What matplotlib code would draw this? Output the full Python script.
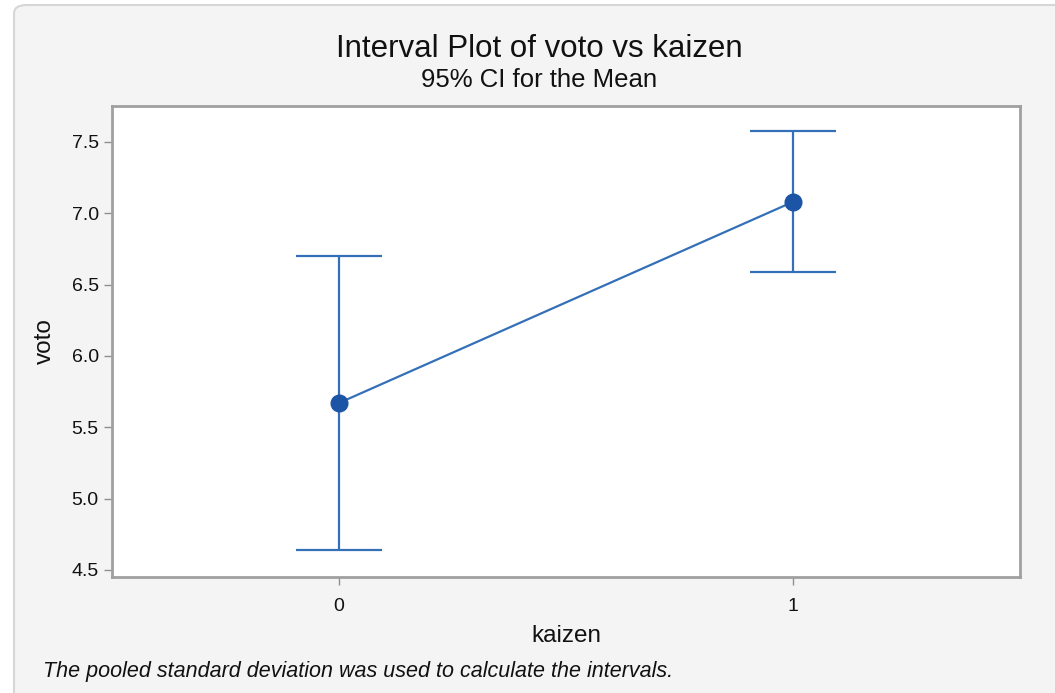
#!/usr/bin/env python3
"""Interval plot of voto vs kaizen (95% CI for the mean), Minitab style."""
import matplotlib

matplotlib.use("Agg")

import matplotlib.pyplot as plt
import numpy as np
from matplotlib.patches import FancyBboxPatch

# group data
groups = ["0", "1"]
means = [5.67, 7.08]
ci_low = [4.64, 6.59]
ci_high = [6.70, 7.575]

LINE = "#3470b8"
DOT = "#1c55a6"
FRAME = "#a0a0a0"
TEXT = "#111111"

plt.rcParams["font.family"] = ["Liberation Sans", "DejaVu Sans"]

fig = plt.figure(figsize=(10.55, 6.93), dpi=100, facecolor="white")

# light gray panel with rounded corner, running off the right and bottom edges
panel = FancyBboxPatch(
    (14 / 1055, -0.05), 1.1, 1.05 - 5 / 693,
    boxstyle="round,pad=0,rounding_size=0.012",
    transform=fig.transFigure, fc="#f4f4f4", ec="#d6d6d6", lw=1.5,
    zorder=-10,
)
fig.patches.append(panel)

ax = fig.add_axes([112 / 1055, 1 - 577 / 693, (1020 - 112) / 1055, (577 - 106) / 693])
ax.set_facecolor("white")

x = np.arange(len(groups))
m = np.array(means)
err = np.vstack([m - np.array(ci_low), np.array(ci_high) - m])

ax.errorbar(x, m, yerr=err, fmt="none", ecolor=LINE, elinewidth=1.6,
            capsize=31, capthick=1.6, zorder=2)
ax.plot(x, m, color=LINE, lw=1.6, zorder=3)
ax.plot(x, m, "o", color=DOT, ms=12, zorder=4)

ax.set_xlim(-0.5, 1.5)
ax.set_ylim(4.45, 7.752)
ax.set_xticks(x)
ax.set_xticklabels(groups)
ax.set_yticks(np.arange(4.5, 7.51, 0.5))
ax.yaxis.set_major_formatter(matplotlib.ticker.FormatStrFormatter("%.1f"))

for s in ax.spines.values():
    s.set_color(FRAME)
    s.set_linewidth(2)
ax.tick_params(axis="both", colors="#909090", labelcolor=TEXT,
               labelsize=14, length=6, width=1)
ax.tick_params(axis="x", pad=9)

ax.set_xlabel("kaizen", fontsize=17.5, color=TEXT, labelpad=7)
ax.set_ylabel("voto", fontsize=17.5, color=TEXT, labelpad=11)

fig.text(539 / 1055, 1 - 49 / 693, "Interval Plot of voto vs kaizen",
         ha="center", va="center", fontsize=22.5, color=TEXT)
fig.text(539 / 1055, 1 - 80 / 693, "95% CI for the Mean",
         ha="center", va="center", fontsize=18.5, color=TEXT)
fig.text(43 / 1055, 1 - 672 / 693,
         "The pooled standard deviation was used to calculate the intervals.",
         ha="left", va="center", fontsize=15.5, style="italic", color=TEXT)

fig.savefig("out.png", dpi=100, facecolor=fig.get_facecolor())
